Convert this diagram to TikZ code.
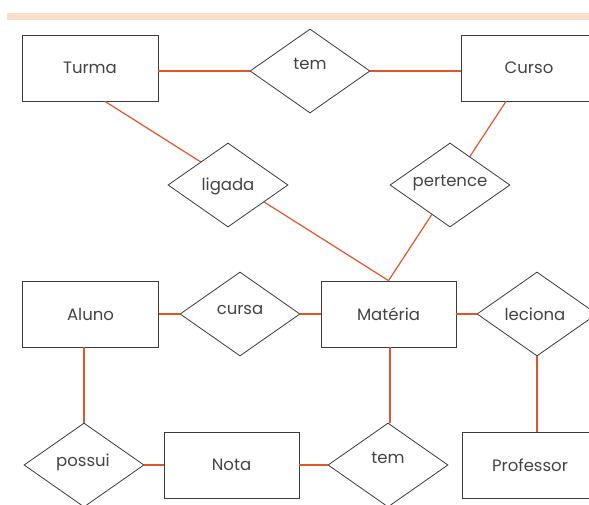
\documentclass[tikz,border=0pt]{standalone}
\usepackage{fontspec}
\setmainfont{Poppins}
\usetikzlibrary{shapes.geometric}
\definecolor{boxgray}{HTML}{3A3A3A}
\definecolor{txt}{HTML}{444444}
\definecolor{link}{HTML}{E0562A}
\definecolor{bar}{HTML}{FADDCB}
\begin{document}
\begin{tikzpicture}[x=1pt,y=-1pt,
  ent/.style={draw=boxgray, line width=0.8pt, fill=white, rectangle,
    minimum width=136pt, minimum height=66pt, inner sep=0pt,
    font=\fontsize{16.5}{18}\selectfont, text=txt},
  rel/.style={draw=boxgray, line width=0.8pt, fill=white, diamond,
    minimum width=120pt, minimum height=84pt, inner sep=0pt},
  reltext/.style={font=\fontsize{16.5}{18}\selectfont, text=txt, inner sep=0pt},
  conn/.style={draw=link, line width=1.2pt}]
\useasboundingbox (0,0) rectangle (589,504);
\begin{scope}
\clip (0,0) rectangle (589,504);
\fill[bar] (7,13) rectangle (589,20);
% entities
\node[ent] (turma) at (90,68) {Turma};
\node[ent] (curso) at (529,68) {Curso};
\node[ent] (aluno) at (90.5,314) {Aluno};
\node[ent, minimum width=135pt] (materia) at (388.5,314) {Matéria};
\node[ent, minimum width=135pt] (nota) at (231.5,465) {Nota};
\node[ent] (professor) at (530,465) {Professor};
% long connectors passing behind the diamonds
\draw[conn] ([xshift=15pt]turma.south) -- (materia.north);
\draw[conn] ([xshift=-23pt]curso.south) -- (materia.north);
% relationships
\node[rel] (temA) at (310,71) {};
\node[reltext] (temAt) at (310,64) {tem};
\node[rel] (ligada) at (228,185) {};
\node[reltext] (ligadat) at (228,186) {ligada};
\node[rel] (pertence) at (450,185) {};
\node[reltext] (pertencet) at (450,183) {pertence};
\node[rel] (cursa) at (240,314) {};
\node[reltext] (cursat) at (240,310) {cursa};
\node[rel] (leciona) at (537,314) {};
\node[reltext] (lecionat) at (535,314) {leciona};
\node[rel] (possui) at (84,465) {};
\node[reltext] (possuit) at (83,462) {possui};
\node[rel] (temB) at (388,465) {};
\node[reltext] (temBt) at (388,458) {tem};
% short connectors
\draw[conn] ([yshift=-3pt]turma.east) -- (temA.west);
\draw[conn] (temA.east) -- ([yshift=-3pt]curso.west);
\draw[conn] (aluno.east) -- (cursa.west);
\draw[conn] (cursa.east) -- (materia.west);
\draw[conn] (materia.east) -- (leciona.west);
\draw[conn] (leciona.south) -- ([xshift=7pt]professor.north);
\draw[conn] (possui.north) -- ([xshift=-6.5pt]aluno.south);
\draw[conn] (possui.east) -- (nota.west);
\draw[conn] (nota.east) -- (temB.west);
\draw[conn] ([xshift=2pt]temB.north) -- ([xshift=1.5pt]materia.south);
\end{scope}
\end{tikzpicture}
\end{document}
